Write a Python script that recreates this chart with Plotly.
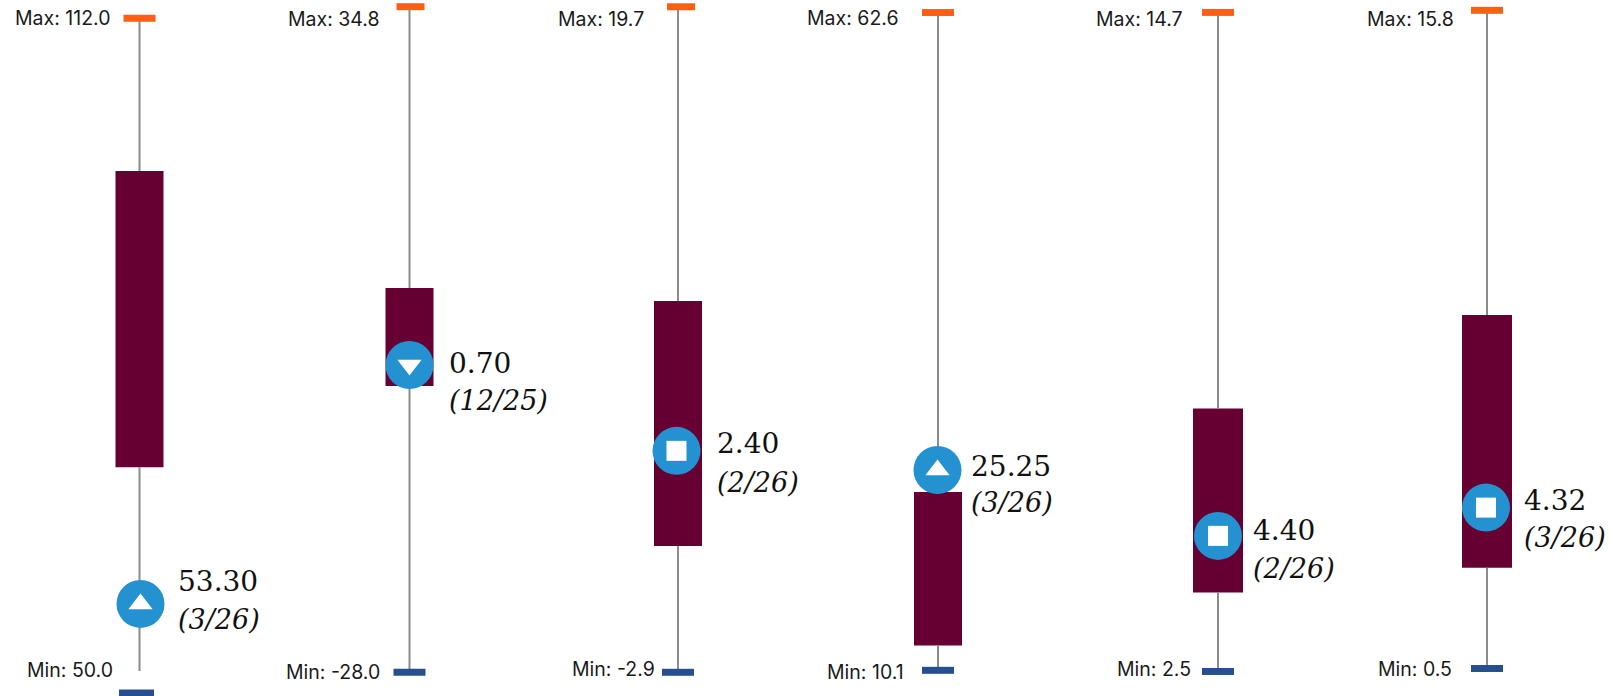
import plotly.graph_objects as go

# Data
max_vals = [112.0, 34.8, 19.7, 62.6, 14.7, 15.8]
min_vals = [50.0, -28.0, -2.9, 10.1, 2.5, 0.5]
whisker_low = [52.02, -28.0, -2.9, 10.1, 2.5, 0.5]
box_high = [97.97, 8.26, 9.71, 24.33, 7.37, 8.72]
box_low = [70.73, -0.99, 1.39, 12.09, 3.96, 2.84]
marker_pos = [58.18, 0.99, 4.62, 26.09, 5.01, 4.24]
value_labels = ["53.30", "0.70", "2.40", "25.25", "4.40", "4.32"]
rank_labels = ["(3/26)", "(12/25)", "(2/26)", "(3/26)", "(2/26)", "(3/26)"]
symbols = ["triangle-up", "triangle-down", "square", "triangle-up", "square", "square"]
y_ranges = [(49.72, 113.68), (-30.24, 35.43), (-3.705, 19.93), (8.05, 63.60), (2.046, 14.93), (-0.139, 16.04)]

# Layout (pixels)
W, H = 1609, 696
centers = [139.5, 409.5, 678, 938, 1218, 1487]
HALF = 120
LINE_EW = 1.4  # plotly draws line-ew markers 1.4x their nominal size
box_w = [48, 48, 48, 48, 50, 50]
max_cap_w = [32, 28, 28, 32, 32, 32]
min_cap_w = [35, 32, 32, 32, 32, 32]
max_cap_dx = [0, 1, 3, 0, 0, 0]
min_cap_dx = [-3, 0, 0, 0, 0, 0]
marker_dx = [1, 0, -1.5, -0.5, 0, -1]
max_lab_dx = [-27, -27.5, -32, -37, -33, -31]
min_lab_dx = [-24.5, -27.5, -21, -32, -25, -33]
max_lab_dy = [0, -12, -12.5, -5, -7, -9]
min_lab_dy = [23, 0.5, 3, -2, 2, -0.5]
value_dx = [36.5, 37.5, 36.5, 31, 32.5, 35]
value_dy = [-22, -2, -7, -3.5, -5, -7]
rank_dy = [16, 35, 32, 33, 33, 30]

ORANGE, NAVY, WINE, BLUE, GREY = "#FF5F15", "#264F8F", "#660033", "#2492D1", "#8C8C8C"
LABEL_FONT = dict(family="Inter", size=19.5, color="#1a1a1a")
SERIF = "DejaVu Serif"

fig = go.Figure()
annotations = []
layout = {}
for i in range(6):
    s = "" if i == 0 else str(i + 1)
    xa, ya = "x" + s, "y" + s
    layout["xaxis" + s] = dict(domain=[(centers[i] - HALF) / W, (centers[i] + HALF) / W],
                               range=[-HALF, HALF], visible=False, fixedrange=True)
    layout["yaxis" + s] = dict(domain=[0, 1], range=list(y_ranges[i]), visible=False, fixedrange=True)

    fig.add_trace(go.Scatter(x=[0, 0, None, 0, 0],
                             y=[whisker_low[i], box_low[i], None, box_high[i], max_vals[i]], mode="lines",
                             line=dict(color=GREY, width=2), xaxis=xa, yaxis=ya))
    fig.add_trace(go.Bar(x=[0], y=[box_high[i] - box_low[i]], base=[box_low[i]], width=[box_w[i]],
                         marker=dict(color=WINE, line=dict(width=0)), xaxis=xa, yaxis=ya))
    fig.add_trace(go.Scatter(x=[max_cap_dx[i]], y=[max_vals[i]], mode="markers", cliponaxis=False,
                             marker=dict(symbol="line-ew", size=max_cap_w[i] / LINE_EW,
                                         line=dict(color=ORANGE, width=7)),
                             xaxis=xa, yaxis=ya))
    fig.add_trace(go.Scatter(x=[min_cap_dx[i]], y=[min_vals[i]], mode="markers", cliponaxis=False,
                             marker=dict(symbol="line-ew", size=min_cap_w[i] / LINE_EW,
                                         line=dict(color=NAVY, width=7)),
                             xaxis=xa, yaxis=ya))
    fig.add_trace(go.Scatter(x=[marker_dx[i]], y=[marker_pos[i]], mode="markers",
                             marker=dict(symbol="circle", size=48, color=BLUE), xaxis=xa, yaxis=ya))
    inner_size = 20 if symbols[i] == "square" else 21
    fig.add_trace(go.Scatter(x=[marker_dx[i]], y=[marker_pos[i]], mode="markers",
                             marker=dict(symbol=symbols[i], size=inner_size, color="white"), xaxis=xa, yaxis=ya))

    common = dict(xref=xa, yref=ya, x=0, showarrow=False, yanchor="middle")
    annotations += [
        dict(common, y=max_vals[i], text=f"Max: {max_vals[i]:.1f}", xanchor="right",
             xshift=max_lab_dx[i], yshift=max_lab_dy[i], font=LABEL_FONT),
        dict(common, y=min_vals[i], text=f"Min: {min_vals[i]:.1f}", xanchor="right",
             xshift=min_lab_dx[i], yshift=min_lab_dy[i], font=LABEL_FONT),
        dict(common, y=marker_pos[i], text=value_labels[i], xanchor="left", xshift=value_dx[i],
             yshift=-value_dy[i], font=dict(family=SERIF, size=28, color="#111111")),
        dict(common, y=marker_pos[i], text=f"<i>{rank_labels[i]}</i>", xanchor="left", xshift=value_dx[i],
             yshift=-rank_dy[i], font=dict(family=SERIF, size=27, color="#111111")),
    ]

fig.update_layout(width=W, height=H, margin=dict(l=0, r=0, t=0, b=0), showlegend=False,
                  plot_bgcolor="white", paper_bgcolor="white", annotations=annotations,
                  hovermode=False, **layout)
fig.write_html("out.html", config=dict(displayModeBar=False),
               post_script="document.body.style.margin='0';document.documentElement.style.overflow='hidden';")
